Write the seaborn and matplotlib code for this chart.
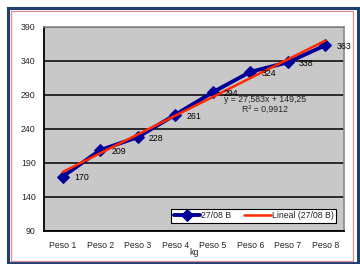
import numpy as np
import matplotlib
matplotlib.use("Agg")
import matplotlib.pyplot as plt
import matplotlib.patches as patches
import seaborn as sns

# data
categories = ["Peso 1", "Peso 2", "Peso 3", "Peso 4", "Peso 5", "Peso 6", "Peso 7", "Peso 8"]
values = [170, 209, 228, 261, 294, 324, 338, 363]
slope = 27.583
intercept = 149.25
r2 = 0.9912

sns.set_style("white")
plt.rcParams["font.family"] = ["Liberation Sans", "DejaVu Sans"]
fs = 6.3

fig = plt.figure(figsize=(3.6, 2.64), dpi=100)
ax = fig.add_axes([44 / 360, 1 - 231 / 264, 300 / 360, 204 / 264])
ax.set_facecolor("#c8c8c8")

x = np.arange(len(categories))
trend = [intercept + slope * (i + 1) for i in x]

sns.lineplot(x=x, y=values, ax=ax, color="#000099", lw=2.8, marker="D",
             markersize=6, markeredgecolor="#000099", label="27/08 B", zorder=3)
sns.lineplot(x=x, y=trend, ax=ax, color="#ff2a00", lw=1.8, label="Lineal (27/08 B)", zorder=4)

for xi, v in zip(x, values):
    ax.annotate(str(v), (xi, v), xytext=(8, -1), textcoords="offset points",
                ha="left", va="center", fontsize=fs, color="black", zorder=5)

ax.set_xlim(-0.5, 7.5)
ax.set_ylim(90, 390)
ax.set_yticks(range(90, 391, 50))
ax.yaxis.grid(True, color="black", lw=1.1)
ax.set_axisbelow(True)

ax.set_xticks(np.arange(-0.5, 8, 1))
ax.set_xticklabels([])
ax.set_xticks(x, minor=True)
ax.set_xticklabels(categories, minor=True)
ax.tick_params(axis="x", which="minor", length=0, labelsize=fs, pad=7)
ax.tick_params(axis="x", which="major", length=2.5, width=0.8, direction="out", color="black")
ax.tick_params(axis="y", length=3, width=1, direction="out", labelsize=fs, pad=3, color="black")
ax.set_xlabel("kg", fontsize=fs, labelpad=-1)
ax.set_ylabel("")

for side in ["left", "bottom"]:
    ax.spines[side].set_color("black")
    ax.spines[side].set_linewidth(1.3)
for side in ["top", "right"]:
    ax.spines[side].set_color("#8a8a8a")
    ax.spines[side].set_linewidth(1.2)

ax.text(265 / 360, 1 - 99 / 264, "y = 27,583x + 149,25", transform=fig.transFigure,
        ha="center", va="center", fontsize=fs)
ax.text(265 / 360, 1 - 109 / 264, "R² = 0,9912", transform=fig.transFigure,
        ha="center", va="center", fontsize=fs)

leg = ax.legend(loc="lower right", bbox_to_anchor=(336 / 360, 1 - 223 / 264),
                bbox_transform=fig.transFigure, ncol=2, fontsize=fs, frameon=True,
                fancybox=False, framealpha=1, edgecolor="black", handlelength=3,
                borderpad=0.3, columnspacing=1.5, handletextpad=0.1, borderaxespad=0)
leg.get_frame().set_linewidth(0.8)

# outer frames
fig.patches.append(patches.Rectangle((7.5 / 360, 1 - 263 / 264), 350 / 360, 255 / 264,
                                     transform=fig.transFigure, fill=False,
                                     edgecolor="#1f3f73", lw=2.2))
fig.patches.append(patches.Rectangle((10.5 / 360, 1 - 261 / 264), 342 / 360, 250 / 264,
                                     transform=fig.transFigure, fill=False,
                                     edgecolor="#e08c8c", lw=0.9))

fig.savefig("out.png", dpi=100)
